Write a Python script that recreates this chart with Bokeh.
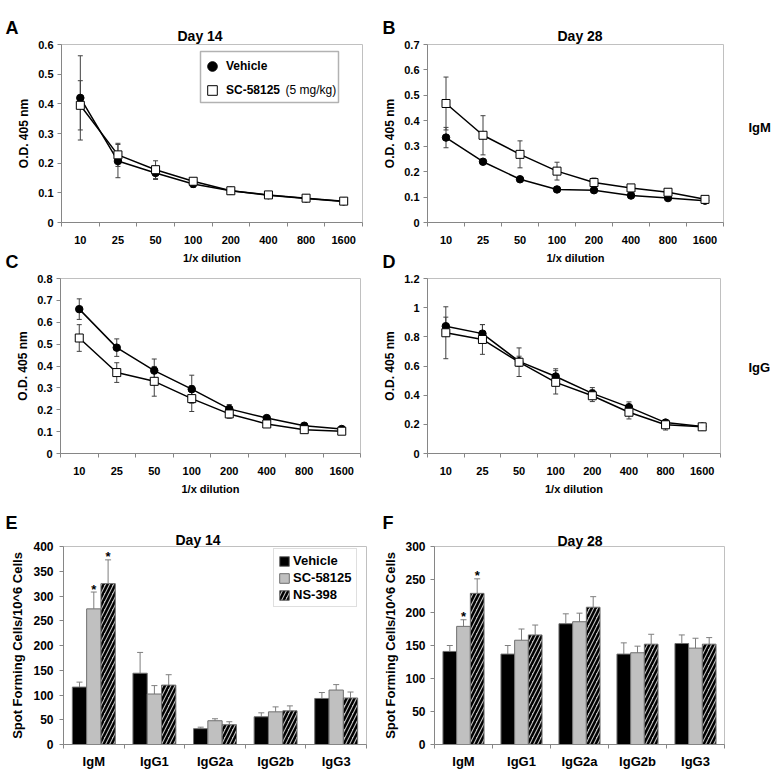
from bokeh.plotting import figure
from bokeh.models import (Range1d, FixedTicker, Whisker, ColumnDataSource, Label, Legend,
                          LegendItem, TeeHead, BoxAnnotation)
from bokeh.layouts import row, column
from bokeh.embed import file_html
from bokeh.resources import INLINE
from bokeh.core.properties import value

FONT = "Liberation Sans"
AXIS_GRAY = "#868686"
FRAME_GRAY = "#c0c0c0"
LINE_ERR = "#404040"
BAR_ERR = "#7f7f7f"

# ---------------- data ----------------
dilutions = ["10", "25", "50", "100", "200", "400", "800", "1600"]
od_label = "O.D. 405 nm"
dil_label = "1/x dilution"

# A: Day 14, IgM
a_vehicle = [0.420, 0.207, 0.167, 0.130, 0.107, 0.092, 0.081, 0.071]
a_vehicle_err = [0.142, 0.056, 0.022, 0.012, 0.004, 0.004, 0.003, 0.003]
a_sc = [0.395, 0.228, 0.178, 0.139, 0.107, 0.093, 0.082, 0.072]
a_sc_err = [0.083, 0.039, 0.030, 0.008, 0.004, 0.005, 0.003, 0.003]
a_yticks = [0, 0.1, 0.2, 0.3, 0.4, 0.5, 0.6]

# B: Day 28, IgM
b_vehicle = [0.334, 0.239, 0.170, 0.130, 0.127, 0.106, 0.096, 0.086]
b_vehicle_err = [0.040, 0.008, 0.006, 0.005, 0.005, 0.004, 0.004, 0.003]
b_sc = [0.468, 0.343, 0.268, 0.202, 0.157, 0.136, 0.119, 0.091]
b_sc_err = [0.104, 0.077, 0.053, 0.035, 0.018, 0.010, 0.012, 0.006]
b_yticks = [0, 0.1, 0.2, 0.3, 0.4, 0.5, 0.6, 0.7]

# C: Day 14, IgG
c_vehicle = [0.660, 0.484, 0.379, 0.294, 0.204, 0.162, 0.127, 0.112]
c_vehicle_err = [0.047, 0.040, 0.053, 0.064, 0.020, 0.008, 0.006, 0.005]
c_sc = [0.528, 0.370, 0.330, 0.251, 0.181, 0.135, 0.109, 0.102]
c_sc_err = [0.061, 0.045, 0.068, 0.059, 0.020, 0.008, 0.006, 0.005]
c_yticks = [0, 0.1, 0.2, 0.3, 0.4, 0.5, 0.6, 0.7, 0.8]

# D: Day 28, IgG
d_vehicle = [0.873, 0.822, 0.632, 0.528, 0.412, 0.318, 0.212, 0.185]
d_vehicle_err = [0.062, 0.062, 0.035, 0.053, 0.040, 0.036, 0.010, 0.006]
d_sc = [0.828, 0.782, 0.626, 0.488, 0.396, 0.283, 0.197, 0.183]
d_sc_err = [0.178, 0.102, 0.098, 0.080, 0.040, 0.046, 0.036, 0.008]
d_yticks = [0, 0.2, 0.4, 0.6, 0.8, 1, 1.2]

isotypes = ["IgM", "IgG1", "IgG2a", "IgG2b", "IgG3"]
sfc_label = "Spot Forming Cells/10^6 Cells"

# E: Day 14 ELISPOT
e_vehicle = [116, 144, 32, 56, 93]
e_vehicle_err = [10, 42, 3, 8, 12]
e_sc = [274, 102, 48, 66, 110]
e_sc_err = [34, 17, 4, 10, 11]
e_ns = [325, 120, 40, 68, 94]
e_ns_err = [48, 21, 6, 10, 12]
e_sc_star = ["*", "", "", "", ""]
e_ns_star = ["*", "", "", "", ""]
e_yticks = [0, 50, 100, 150, 200, 250, 300, 350, 400]

# F: Day 28 ELISPOT
f_vehicle = [141, 137, 183, 137, 153]
f_vehicle_err = [9, 13, 15, 17, 13]
f_sc = [179, 158, 186, 139, 146]
f_sc_err = [10, 17, 13, 10, 15]
f_ns = [229, 166, 208, 152, 152]
f_ns_err = [22, 15, 16, 15, 10]
f_sc_star = ["*", "", "", "", ""]
f_ns_star = ["*", "", "", "", ""]
f_yticks = [0, 50, 100, 150, 200, 250, 300]

series_names = ["Vehicle", "SC-58125", "NS-398"]
no_star = ["", "", "", "", ""]


# ---------------- helpers ----------------
def base_fig(width, height, borders, ncat, ymax):
    left, right, top, bottom = borders
    p = figure(width=width, height=height, output_backend="svg", toolbar_location=None,
               title=None,
               x_range=Range1d(0, ncat), y_range=Range1d(0, ymax),
               min_border_left=left, min_border_right=right,
               min_border_top=top, min_border_bottom=bottom)
    p.grid.visible = False
    p.outline_line_color = FRAME_GRAY
    p.outline_line_width = 1
    p.background_fill_color = "white"
    p.border_fill_color = "white"
    return p


def style_x(p, labels, size, standoff, axis_label=None, label_size="11px", label_standoff=5):
    n = len(labels)
    centers = [i + 0.5 for i in range(n)]
    ax = p.xaxis[0]
    ax.ticker = FixedTicker(ticks=centers, minor_ticks=list(range(n + 1)))
    ax.major_label_overrides = {c: lab for c, lab in zip(centers, labels)}
    ax.major_tick_out = 0
    ax.major_tick_in = 0
    ax.minor_tick_out = 4
    ax.minor_tick_in = 0
    ax.minor_tick_line_color = AXIS_GRAY
    ax.axis_line_color = AXIS_GRAY
    ax.major_label_text_font = FONT
    ax.major_label_text_font_style = "bold"
    ax.major_label_text_font_size = size
    ax.major_label_text_color = "black"
    ax.major_label_standoff = standoff
    if axis_label:
        ax.axis_label = axis_label
        ax.axis_label_text_font = FONT
        ax.axis_label_text_font_style = "bold"
        ax.axis_label_text_font_size = label_size
        ax.axis_label_text_color = "black"
        ax.axis_label_standoff = label_standoff


def style_y(p, ticks, size, standoff, axis_label, label_size, label_standoff):
    ax = p.yaxis[0]
    ax.ticker = FixedTicker(ticks=ticks, minor_ticks=[])
    ax.major_label_overrides = {t: f"{t:g}" for t in ticks}
    ax.major_tick_out = 4
    ax.major_tick_in = 0
    ax.major_tick_line_color = AXIS_GRAY
    ax.minor_tick_line_color = None
    ax.axis_line_color = AXIS_GRAY
    ax.major_label_text_font = FONT
    ax.major_label_text_font_style = "bold"
    ax.major_label_text_font_size = size
    ax.major_label_text_color = "black"
    ax.major_label_standoff = standoff
    ax.axis_label = axis_label
    ax.axis_label_text_font = FONT
    ax.axis_label_text_font_style = "bold"
    ax.axis_label_text_font_size = label_size
    ax.axis_label_text_color = "black"
    ax.axis_label_standoff = label_standoff


def side_text(p, side, x, y, text, size, style="bold"):
    # texts outside the frame live in a side panel (not clipped), placed in canvas pixels
    p.add_layout(Label(x=x, y=y, x_units="canvas", y_units="canvas", text=text,
                       text_font=FONT, text_font_size=size, text_font_style=style,
                       text_color="black", text_baseline="alphabetic", text_align="left",
                       text_line_height=1.0),
                 side)


def line_panel(width, height, borders, ymax, yticks, vehicle, vehicle_err, sc, sc_err):
    p = base_fig(width, height, borders, len(dilutions), ymax)
    style_x(p, dilutions, "11px", 9, dil_label, "11px", 5)
    style_y(p, yticks, "11px", 4, od_label, "12px", 4)
    xs = [i + 0.5 for i in range(len(dilutions))]
    rends = []
    for vals, errs, marker, fill, size in ((vehicle, vehicle_err, "circle", "black", 7.5),
                                           (sc, sc_err, "square", "white", 8)):
        src = ColumnDataSource(dict(x=xs, y=vals,
                                    upper=[v + e for v, e in zip(vals, errs)],
                                    lower=[v - e for v, e in zip(vals, errs)]))
        p.add_layout(Whisker(source=src, base="x", upper="upper", lower="lower",
                             line_color=LINE_ERR, line_width=1,
                             upper_head=TeeHead(size=5, line_color=LINE_ERR, line_width=1),
                             lower_head=TeeHead(size=5, line_color=LINE_ERR, line_width=1)))
        p.line("x", "y", source=src, line_color="black", line_width=1.5)
        r = p.scatter("x", "y", source=src, marker=marker, size=size, fill_color=fill,
                      line_color="black", line_width=1)
        rends.append(r)
    return p, rends


def bar_panel(width, height, borders, ymax, yticks, data, std_y, lbl_std):
    p = base_fig(width, height, borders, len(isotypes), ymax)
    style_x(p, isotypes, "13px", 5)
    style_y(p, yticks, "12px", std_y, sfc_label, "13px", lbl_std)
    xs = [i + 0.5 for i in range(len(isotypes))]
    bw = 0.236
    n = len(data)
    items = []
    for k, (name, vals, errs, stars, fill, hatch) in enumerate(data):
        off = (k - (n - 1) / 2) * bw
        src = ColumnDataSource(dict(x=[c + off for c in xs], top=vals,
                                    upper=[v + e for v, e in zip(vals, errs)],
                                    star=stars))
        kw = {}
        if hatch:
            kw = dict(hatch_pattern="/", hatch_color="black", hatch_weight=2.5, hatch_scale=8)
        r = p.vbar(x="x", top="top", bottom=0, width=bw, source=src, fill_color=fill,
                   line_color="#6f6f6f", line_width=1, **kw)
        p.add_layout(Whisker(source=src, base="x", upper="upper", lower="top",
                             line_color=BAR_ERR, line_width=1,
                             upper_head=TeeHead(size=6, line_color=BAR_ERR, line_width=1),
                             lower_head=None))
        p.text(x="x", y="upper", text="star", source=src, text_font=value(FONT),
               text_font_style="bold", text_font_size="13px", text_align="center",
               text_baseline="alphabetic", y_offset=-3, text_color="black")
        items.append(LegendItem(label=name, renderers=[r]))
    return p, items


# ---------------- panels ----------------
WL, WR = 380, 392
H1, H2, H3 = 270, 235, 276

# A
pA, rA = line_panel(WL, H1, (61, 18, 44, 48), 0.6, a_yticks, a_vehicle, a_vehicle_err, a_sc, a_sc_err)
pA.add_layout(BoxAnnotation(left=139, right=277, bottom=120, top=171,
                            left_units="screen", right_units="screen",
                            bottom_units="screen", top_units="screen",
                            fill_color="white", fill_alpha=1, line_color="black",
                            line_width=1.5))
legA = Legend(items=[LegendItem(label="Vehicle", renderers=[rA[0]]),
                     LegendItem(label="SC-58125", renderers=[rA[1]])],
              location=(139, 120), margin=0, padding=1, spacing=0,
              glyph_width=24, glyph_height=24, label_standoff=2,
              border_line_color=None, background_fill_alpha=0,
              label_text_font=FONT, label_text_font_style="bold",
              label_text_font_size="12px", label_text_color="black")
pA.add_layout(legA)
pA.add_layout(Label(x=224, y=133, x_units="screen", y_units="screen", text="(5 mg/kg)",
                    text_font=FONT, text_font_size="12px", text_font_style="normal",
                    text_color="#000000", text_baseline="middle"))
side_text(pA, "above", 177, 35, "Day 14", "14px")
side_text(pA, "above", 5, 27, "A", "18px")
side_text(pA, "right", 5, 261, "C", "18px")

# B
pB, rB = line_panel(WR, H1, (45, 49, 44, 48), 0.7, b_yticks, b_vehicle, b_vehicle_err, b_sc, b_sc_err)
side_text(pB, "above", 177, 35, "Day 28", "14px")
side_text(pB, "above", 2, 27, "B", "18px")
side_text(pB, "right", 2, 261, "D", "18px")
side_text(pB, "right", 368, 127, "IgM", "13px")

# C
pC, rC = line_panel(WL, H2, (60, 20, 5, 52), 0.8, c_yticks, c_vehicle, c_vehicle_err, c_sc, c_sc_err)

# D
pD, rD = line_panel(WR, H2, (44, 52, 8, 51), 1.2, d_yticks, d_vehicle, d_vehicle_err, d_sc, d_sc_err)
side_text(pD, "right", 368, 97, "IgG", "13px")

# E
pE, itemsE = bar_panel(WL, H3, (63, 14, 38, 34), 400, e_yticks,
                       [(series_names[0], e_vehicle, e_vehicle_err, no_star, "black", False),
                        (series_names[1], e_sc, e_sc_err, e_sc_star, "#c0c0c0", False),
                        (series_names[2], e_ns, e_ns_err, e_ns_star, "#c0c0c0", True)],
                       6, 5)
legE = Legend(items=itemsE, location=(210, 137), margin=0, padding=4, spacing=2,
              glyph_width=12, glyph_height=12, label_standoff=3, label_height=12,
              border_line_color=FRAME_GRAY, border_line_width=1,
              background_fill_color="white", background_fill_alpha=1,
              label_text_font=FONT, label_text_font_style="bold",
              label_text_font_size="13px", label_text_color="black")
pE.add_layout(legE)
side_text(pE, "above", 175, 34, "Day 14", "14px")
side_text(pE, "right", 5, 17, "E", "18px")

# F
pF, itemsF = bar_panel(WR, H3, (50, 48, 41, 37), 300, f_yticks,
                       [(series_names[0], f_vehicle, f_vehicle_err, no_star, "black", False),
                        (series_names[1], f_sc, f_sc_err, f_sc_star, "#c0c0c0", False),
                        (series_names[2], f_ns, f_ns_err, f_ns_star, "#c0c0c0", True)],
                       5, 4)
side_text(pF, "above", 177, 35, "Day 28", "14px")
side_text(pF, "right", 2, 17, "F", "18px")

layout = column(row(pA, pB), row(pC, pD), row(pE, pF))
open("out.html", "w").write(file_html(layout, INLINE))
